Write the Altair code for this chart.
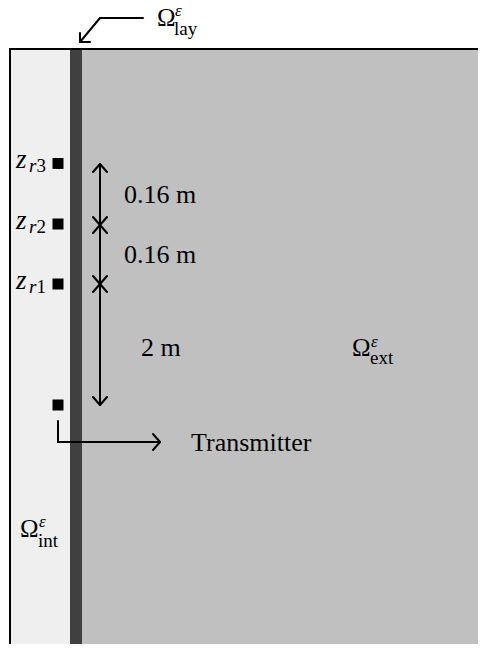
import altair as alt
import pandas as pd

# ---- canvas (diagram drawn in page-pixel coordinates) ----
W, H = 470, 636
X0, Y0 = 8, 8

# ---- regions of the domain ----
region_names = ["interior", "layer", "exterior"]
region_left = [11, 70, 82]
region_right = [70, 82, 486]
region_colors = ["#efefef", "#404040", "#c0c0c0"]
box_left, box_top, box_right, box_bottom = 10, 49, 486, 652

# ---- receivers / transmitter ----
receiver_ids = ["3", "2", "1"]
receiver_y = [163.5, 224, 284]
transmitter_y = 405
device_x = 58
device_side = 11

# ---- dimension arrow ----
dim_x = 100
dim_marks = [164, 225, 284, 405]
dim_texts = ["0.16 m", "0.16 m", "2 m"]
dim_text_x = [124, 124, 141]
dim_text_y = [203, 263, 356]
head_len, head_half = 8, 7

# ---- transmitter pointer ----
tx_line_top = 421
tx_line_y = 442
tx_tip_x = 160
tx_label, tx_label_x, tx_label_y = "Transmitter", 191, 451

# ---- layer pointer ----
lay_path = [(143, 18), (100, 18), (80, 42)]
lay_wings = [(80, 33), (90, 42)]

# ---- region labels (Omega, superscript, subscript) ----
omega_sub = ["lay", "ext", "int"]
omega_x = [157, 352, 20]
omega_base = [26, 356, 537]
omega_sub_x = [174, 370, 38]
omega_sub_base = [35, 364, 547]
omega_sup_base = [16, 347, 527]

# ---------------- build tables ----------------
regions = pd.DataFrame({
    "name": region_names, "x": region_left, "x2": region_right,
    "y": [box_top] * 3, "y2": [box_bottom] * 3, "color": region_colors,
})

segs = []
def seg(a, b):
    segs.append({"x": a[0], "y": a[1], "x2": b[0], "y2": b[1]})

# frame
seg((box_left, box_top), (box_right, box_top))
seg((box_left, box_top), (box_left, box_bottom))
# dimension line
seg((dim_x, dim_marks[0]), (dim_x, dim_marks[-1]))
# arrowheads: top pointing up, bottom pointing down, inner ones both ways
for i, m in enumerate(dim_marks):
    if i < len(dim_marks) - 1:  # up-pointing head at m
        seg((dim_x, m), (dim_x - head_half, m + head_len))
        seg((dim_x, m), (dim_x + head_half, m + head_len))
    if i > 0:  # down-pointing head at m
        seg((dim_x, m), (dim_x - head_half, m - head_len))
        seg((dim_x, m), (dim_x + head_half, m - head_len))
# transmitter pointer
seg((device_x, tx_line_top), (device_x, tx_line_y))
seg((device_x, tx_line_y), (tx_tip_x, tx_line_y))
seg((tx_tip_x, tx_line_y), (tx_tip_x - head_len + 1, tx_line_y - head_len))
seg((tx_tip_x, tx_line_y), (tx_tip_x - head_len + 1, tx_line_y + head_len))
# layer pointer
for a, b in zip(lay_path[:-1], lay_path[1:]):
    seg(a, b)
for w in lay_wings:
    seg(lay_path[-1], w)
segments = pd.DataFrame(segs)

devices = pd.DataFrame({
    "x": [device_x] * 4, "y": receiver_y + [transmitter_y],
})

roman, italic = [], []
for t, x, y in zip(dim_texts, dim_text_x, dim_text_y):
    roman.append({"t": t, "x": x, "y": y, "s": 26})
roman.append({"t": tx_label, "x": tx_label_x, "y": tx_label_y, "s": 26})
for sub, ox, ob, sx, sb, pb in zip(omega_sub, omega_x, omega_base,
                                   omega_sub_x, omega_sub_base, omega_sup_base):
    roman.append({"t": "Ω", "x": ox, "y": ob, "s": 25})
    roman.append({"t": sub, "x": sx, "y": sb, "s": 19})
    italic.append({"t": "ε", "x": sx + 1, "y": pb, "s": 17})
for rid, ry in zip(receiver_ids, receiver_y):
    italic.append({"t": "z", "x": 16, "y": ry + 4.5, "s": 27})
    italic.append({"t": "r", "x": 29, "y": ry + 8.5, "s": 19})
    roman.append({"t": rid, "x": 36.5, "y": ry + 8.5, "s": 19})
roman = pd.DataFrame(roman)
italic = pd.DataFrame(italic)

# ---------------- chart ----------------
xs = alt.Scale(domain=[X0, X0 + W], nice=False, zero=False)
ys = alt.Scale(domain=[Y0, Y0 + H], nice=False, zero=False, reverse=True)
X = lambda f="x": alt.X(f"{f}:Q", scale=xs, axis=None)
Y = lambda f="y": alt.Y(f"{f}:Q", scale=ys, axis=None)

rects = alt.Chart(regions).mark_rect(strokeWidth=0).encode(
    x=X(), x2="x2:Q", y=Y(), y2="y2:Q",
    color=alt.Color("color:N", scale=None),
)
rules = alt.Chart(segments).mark_rule(color="black", strokeWidth=2, strokeCap="round").encode(
    x=X(), x2="x2:Q", y=Y(), y2="y2:Q",
)
squares = alt.Chart(devices).mark_square(
    size=device_side ** 2, color="black", opacity=1, filled=True
).encode(x=X(), y=Y())

def texts(df, style):
    return alt.Chart(df).mark_text(
        font="Liberation Serif", fontStyle=style, align="left",
        baseline="alphabetic", color="black",
    ).encode(x=X(), y=Y(), text="t:N", size=alt.Size("s:Q", scale=None))

chart = alt.layer(rects, rules, squares, texts(roman, "normal"), texts(italic, "italic")).properties(
    width=W, height=H, padding=0, autosize=alt.AutoSizeParams(type="none")
).configure_view(strokeWidth=0)

chart.save("out.html", embed_options={"renderer": "svg", "actions": False})
